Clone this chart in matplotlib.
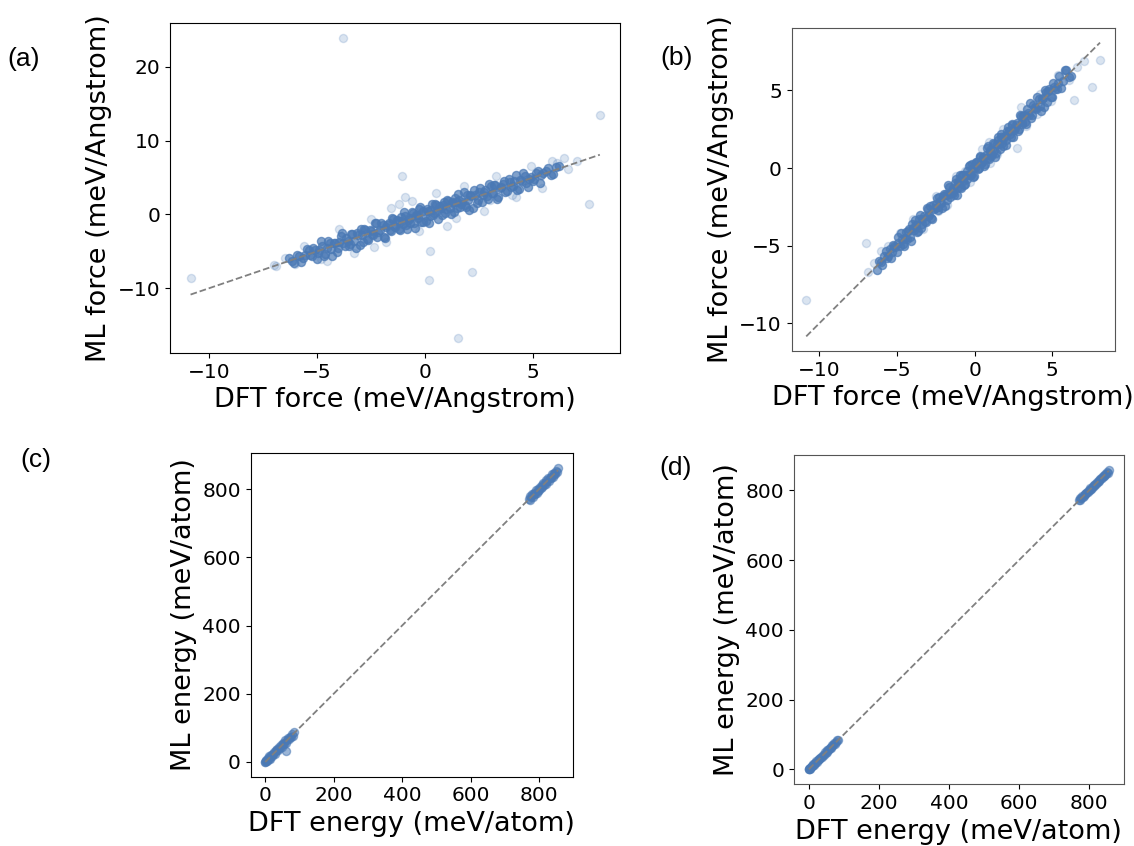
import matplotlib
matplotlib.use("Agg")
import matplotlib.pyplot as plt

# DFT forces (shared by panels a and b), dense part of the cloud
core_dft = [-6.30, -6.05, -5.82, -5.63, -5.47, -5.31, -5.18, -5.02, -4.91, -4.77,
            -4.62, -4.49, -4.36, -4.23, -4.08, -3.97, -3.86, -3.71, -3.58, -3.47,
            -3.36, -3.21, -3.09, -2.98, -2.87, -2.76, -2.62, -2.51, -2.39, -2.28,
            -2.17, -2.03, -1.92, -1.81, -1.69, -1.58, -1.47, -1.38, -1.27, -1.16,
            -1.07, -0.96, -0.88, -0.77, -0.68, -0.57, -0.48, -0.37, -0.28, -0.17,
            -0.08, 0.03, 0.12, 0.21, 0.32, 0.41, 0.52, 0.61, 0.72, 0.83,
            0.91, 1.02, 1.13, 1.22, 1.33, 1.42, 1.53, 1.61, 1.72, 1.83,
            1.94, 2.03, 2.14, 2.26, 2.38, 2.49, 2.61, 2.72, 2.84, 2.97,
            3.08, 3.19, 3.31, 3.46, 3.58, 3.71, 3.86, 3.98, 4.12, 4.27,
            4.39, 4.52, 4.68, 4.81, 4.97, 5.12, 5.29, 5.46, 5.68, 5.91, 6.21,
            -6.18, -5.94, -5.72, -5.55, -5.39, -5.24, -5.10, -4.96, -4.84, -4.69,
            -4.55, -4.42, -4.29, -4.15, -4.02, -3.91, -3.78, -3.64, -3.52, -3.41,
            -3.28, -3.15, -3.03, -2.92, -2.81, -2.69, -2.56, -2.45, -2.33, -2.22,
            -2.10, -1.97, -1.86, -1.75, -1.63, -1.52, -1.42, -1.32, -1.21, -1.11,
            -1.01, -0.92, -0.82, -0.72, -0.62, -0.52, -0.42, -0.32, -0.22, -0.12,
            -0.02, 0.08, 0.17, 0.27, 0.37, 0.47, 0.57, 0.67, 0.78, 0.87,
            0.97, 1.08, 1.18, 1.28, 1.38, 1.48, 1.57, 1.67, 1.78, 1.89,
            1.99, 2.09, 2.20, 2.32, 2.44, 2.55, 2.67, 2.78, 2.91, 3.03,
            3.14, 3.25, 3.39, 3.52, 3.65, 3.79, 3.92, 4.05, 4.19, 4.33,
            4.46, 4.60, 4.75, 4.89, 5.05, 5.21, 5.38, 5.57, 5.80, 6.05]
core_ml_a = [-5.94, -6.59, -5.64, -5.87, -4.70, -5.45, -4.54, -5.98, -4.81, -4.27,
             -5.32, -3.59, -4.66, -3.83, -5.08, -3.77, -2.56, -4.31, -3.58, -3.97,
             -2.66, -4.61, -2.79, -1.98, -3.67, -2.16, -3.52, -2.21, -2.79, -1.18,
             -2.37, -1.23, -3.12, -1.71, -1.19, -2.28, -0.57, -1.68, -0.87, -2.16,
             -0.87, 0.34, -1.48, -0.77, -1.18, 0.13, -1.88, -0.07, 0.72, -0.97,
             0.52, -0.87, 0.42, -0.19, 1.42, 0.21, 1.32, -0.59, 0.82, 1.33,
             0.21, 1.92, 0.83, 1.62, 0.33, 1.62, 2.83, 1.01, 1.72, 1.33,
             2.64, 0.63, 2.44, 3.26, 1.58, 3.09, 1.71, 3.02, 2.44, 4.07,
             2.88, 3.99, 2.11, 3.56, 4.08, 3.01, 4.76, 3.68, 4.52, 3.27,
             4.59, 5.56, 4.20, 4.81, 4.57, 5.61, 4.31, 5.67, 6.28, 5.43, 6.51,
             -6.36, -5.52, -6.38, -5.43, -4.85, -5.60, -4.86, -5.16, -3.64, -5.59,
             -4.55, -3.82, -5.59, -3.85, -4.52, -2.91, -3.88, -3.14, -4.32, -2.61,
             -3.58, -2.45, -4.13, -2.72, -1.91, -3.29, -2.16, -2.65, -1.13, -3.12,
             -2.10, -1.37, -3.16, -1.45, -2.13, -0.52, -1.52, -0.82, -2.01, -0.31,
             -1.31, -0.22, -1.92, -0.52, 0.28, -1.12, -0.02, -0.52, 0.98, -1.02,
             -0.02, 0.68, -1.13, 0.57, -0.13, 1.47, 0.47, 1.17, -0.02, 1.67,
             0.67, 1.78, 0.08, 1.48, 2.28, 0.88, 1.97, 1.47, 2.98, 0.99,
             1.99, 2.69, 0.90, 2.62, 1.94, 3.55, 2.57, 3.28, 2.11, 3.83,
             2.84, 3.95, 2.29, 3.72, 4.55, 3.19, 4.32, 3.85, 5.39, 3.43,
             4.46, 5.20, 3.71, 5.13, 4.75, 5.81, 5.32, 5.87, 5.32, 6.45]
core_ml_b = [-6.60, -6.05, -5.70, -5.81, -5.19, -5.38, -5.02, -5.42, -4.81, -4.17,
             -4.92, -4.49, -4.56, -3.93, -4.68, -3.87, -3.36, -4.11, -3.28, -3.87,
             -3.26, -3.41, -2.59, -3.08, -2.47, -3.26, -2.62, -2.31, -2.69, -1.88,
             -2.27, -1.83, -2.42, -1.71, -1.09, -1.88, -1.47, -1.58, -0.97, -1.76,
             -0.97, -0.46, -1.28, -0.47, -1.08, -0.47, -0.68, 0.13, -0.38, 0.23,
             -0.58, 0.03, 0.32, -0.09, 0.72, 0.31, 0.72, 0.11, 0.82, 1.43,
             0.61, 1.02, 0.93, 1.52, 0.73, 1.52, 2.03, 1.21, 2.02, 1.43,
             2.04, 1.83, 2.64, 2.16, 2.78, 1.99, 2.61, 2.92, 2.54, 3.37,
             2.98, 3.39, 2.81, 3.56, 4.18, 3.41, 3.86, 3.78, 4.42, 3.67,
             4.49, 5.02, 4.28, 5.11, 4.57, 5.22, 5.09, 5.96, 5.58, 6.31, 5.91,
             -5.98, -6.24, -5.32, -5.65, -5.79, -4.94, -5.10, -4.46, -5.04, -4.59,
             -5.05, -4.12, -4.09, -4.45, -3.62, -4.01, -3.68, -4.04, -3.02, -3.61,
             -3.08, -3.45, -2.63, -3.02, -3.21, -2.39, -2.56, -1.95, -2.53, -2.12,
             -2.60, -1.67, -1.66, -2.05, -1.23, -1.62, -1.32, -1.72, -0.71, -1.31,
             -0.81, -1.22, -0.42, -0.82, -1.02, -0.22, -0.42, 0.18, -0.42, -0.02,
             -0.52, 0.38, 0.37, -0.03, 0.77, 0.37, 0.67, 0.27, 1.28, 0.67,
             1.17, 0.78, 1.58, 1.18, 0.98, 1.78, 1.57, 2.17, 1.58, 1.99,
             1.49, 2.39, 2.40, 2.02, 2.84, 2.45, 2.77, 2.38, 3.41, 2.83,
             3.34, 2.95, 3.79, 3.42, 3.25, 4.09, 3.92, 4.55, 3.99, 4.43,
             3.96, 4.90, 4.95, 4.59, 5.45, 5.11, 5.48, 5.17, 6.30, 5.85]

# sparse points: fringe of the cloud and outliers
halo_dft = [-10.85, 8.08, 7.56, 7.03, 6.40, 5.85, -6.90, -7.00, -6.02, -3.82,
            1.50, 0.18, 0.24, 2.19, -1.06, -0.95, -0.60, -1.60, -2.36, -4.52,
            4.00, 1.43, 6.60, -5.60, -4.80, -4.00, -3.30, -2.50, -1.80, -1.20,
            -0.30, 0.50, 1.00, 1.80, 2.70, 3.30, 4.20, 4.90, 5.40, 6.10,
            -6.50, 0.90, 3.00]
halo_ml_a = [-8.67, 13.4, 1.35, 7.28, 7.60, 7.28, -6.97, -6.80, -6.74, 23.9,
             -16.7, -8.85, -4.94, -7.73, 5.17, 2.29, 1.80, 0.85, -4.36, -6.34,
             2.60, -0.54, 6.20, -4.30, -6.10, -2.00, -5.20, -0.60, -3.80, 1.40,
             -2.30, 2.90, -1.60, 3.90, 0.40, 5.20, 2.30, 6.60, 3.60, 7.00,
             -5.90, 1.00, 2.00]
halo_ml_b = [-8.50, 6.97, 5.20, 6.88, 4.39, 6.10, -6.67, -4.84, -5.34, -3.60,
             1.30, 0.40, 0.00, 2.40, -0.80, -0.60, -0.20, -1.20, -2.80, -4.90,
             3.50, 0.90, 6.50, -5.00, -4.20, -3.30, -3.90, -1.80, -2.40, -0.50,
             -0.90, 1.20, 0.30, 2.50, 1.30, 2.70, 4.80, 4.30, 6.00, 5.70,
             -6.10, 1.70, 3.90]

# energies (meV/atom), DFT shared by panels c and d
dft_energy = [0.0, 0.5, 1.2, 2.0, 3.1, 4.5, 6.0, 7.8, 9.5, 11.2,
              13.0, 15.1, 17.3, 19.0, 21.2, 23.5, 25.8, 28.0, 30.4, 32.7,
              35.1, 37.6, 40.2, 42.8, 45.3, 47.9, 50.6, 53.2, 55.8, 58.5,
              61.3, 64.0, 66.8, 69.5, 72.4, 75.3, 78.1, 81.0, 84.2, 62.0,
              770.5, 772.8, 775.0, 777.4, 779.6, 782.1, 784.3, 786.8, 789.0, 791.5,
              793.7, 796.2, 798.4, 800.9, 803.1, 805.6, 807.8, 810.3, 812.5, 815.0,
              817.2, 819.7, 821.9, 824.4, 826.6, 829.1, 831.3, 833.8, 836.0, 838.5,
              840.7, 843.2, 845.4, 847.9, 850.1, 852.6, 855.8]
ml_energy_c = [0.6, 0.1, 2.4, 1.3, 5.6, 1.8, 7.0, 10.8, 7.5, 17.2,
               8.0, 15.1, 20.3, 16.0, 23.2, 22.5, 29.8, 24.0, 35.4, 30.7,
               37.1, 34.6, 44.2, 41.8, 50.3, 43.9, 51.6, 56.2, 53.8, 64.5,
               56.3, 64.0, 69.8, 66.5, 74.4, 74.3, 82.1, 77.0, 89.2, 33.0,
               772.5, 769.8, 779.0, 776.4, 784.6, 778.1, 785.3, 789.8, 787.0, 797.5,
               788.7, 796.2, 801.4, 797.9, 805.1, 804.6, 811.8, 806.3, 817.5, 813.0,
               819.2, 816.7, 825.9, 823.4, 831.6, 825.1, 832.3, 836.8, 834.0, 844.5,
               835.7, 843.2, 848.4, 844.9, 852.1, 851.6, 861.8]
ml_energy_d = [0.3, 0.0, 2.0, 1.2, 5.1, 2.8, 6.0, 9.8, 8.5, 12.2,
               14.0, 13.1, 19.3, 18.0, 24.2, 21.5, 25.8, 30.0, 29.4, 33.7,
               36.1, 35.6, 42.2, 41.8, 48.3, 45.9, 50.6, 55.2, 54.8, 59.5,
               62.3, 62.0, 68.8, 68.5, 75.4, 73.3, 78.1, 83.0, 83.2, 63.0,
               771.5, 770.8, 777.0, 776.4, 782.6, 780.1, 784.3, 788.8, 788.0, 792.5,
               794.7, 794.2, 800.4, 799.9, 806.1, 803.6, 807.8, 812.3, 811.5, 816.0,
               818.2, 817.7, 823.9, 823.4, 829.6, 827.1, 831.3, 835.8, 835.0, 839.5,
               841.7, 841.2, 847.4, 846.9, 853.1, 850.6, 857.8]

color = '#4a79b5'
tick_fs = 14.5
label_fs = 19.5
msize = 34

fig = plt.figure(figsize=(11.34, 8.46), dpi=100)

# axes rectangles in figure fractions
rects = {
    'a': [0.150, 0.583, 0.397, 0.390],
    'b': [0.698, 0.585, 0.285, 0.382],
    'c': [0.221, 0.082, 0.284, 0.382],
    'd': [0.700, 0.073, 0.291, 0.389],
}
label_pos = {'a': (24, 59), 'b': (677, 58), 'c': (36, 460), 'd': (676, 468)}


def style(ax, xlabel, ylabel, spine_color):
    ax.set_xlabel(xlabel, fontsize=label_fs)
    ax.set_ylabel(ylabel, fontsize=label_fs)
    ax.tick_params(labelsize=tick_fs)
    for sp in ax.spines.values():
        sp.set_color(spine_color)


def diag(ax, vals):
    lo, hi = min(vals), max(vals)
    ax.plot([lo, hi], [lo, hi], '--', color='gray', lw=1.3, zorder=3)


# force panels
for key, core_ml, halo_ml, sc in [('a', core_ml_a, halo_ml_a, 'black'),
                                  ('b', core_ml_b, halo_ml_b, '#555555')]:
    ax = fig.add_axes(rects[key])
    ax.scatter(halo_dft, halo_ml, s=msize, color=color, alpha=0.2, linewidths=1)
    ax.scatter(core_dft, core_ml, s=msize, color=color, alpha=0.7, linewidths=1)
    diag(ax, core_dft + halo_dft)
    style(ax, 'DFT force (meV/Angstrom)', 'ML force (meV/Angstrom)', sc)
    if key == 'a':
        ax.set_yticks([-10, 0, 10, 20])

# energy panels
for key, ml, sc in [('c', ml_energy_c, 'black'), ('d', ml_energy_d, '#555555')]:
    ax = fig.add_axes(rects[key])
    ax.scatter(dft_energy, ml, s=msize, color=color, alpha=0.55, linewidths=1)
    diag(ax, dft_energy)
    style(ax, 'DFT energy (meV/atom)', 'ML energy (meV/atom)', sc)
    ax.set_xticks([0, 200, 400, 600, 800])
    ax.set_yticks([0, 200, 400, 600, 800])

for key, (px, py) in label_pos.items():
    fig.text(px / 1134, 1 - py / 846, '(%s)' % key, fontsize=19,
             family='Liberation Sans', ha='center', va='center')

fig.savefig('out.png', dpi=100)
